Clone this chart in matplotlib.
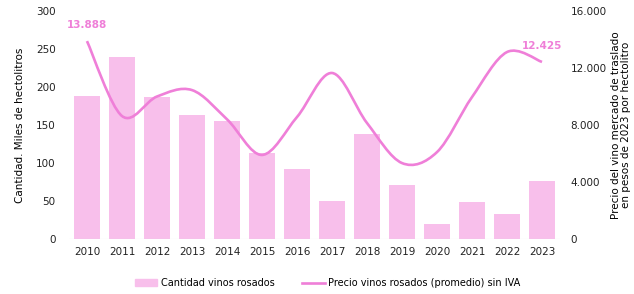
import matplotlib.pyplot as plt
import numpy as np
from matplotlib.path import Path
import matplotlib.patches as patches

years = ['2010', '2011', '2012', '2013', '2014', '2015', '2016',
         '2017', '2018', '2019', '2020', '2021', '2022', '2023']
cantidad = [188, 239, 187, 163, 155, 113, 92, 50, 138, 71, 20, 49, 33, 76]
precio = [13888, 8630, 10000, 10450, 8400, 5900, 8560, 11650, 8140, 5330,
          6100, 9960, 13120, 12425]

color_bar = '#F8BFEB'
color_line = '#EF7FD8'

plt.rcParams['font.family'] = ['DejaVu Sans']

fig = plt.figure(figsize=(6.34, 2.94), dpi=100)
ax = fig.add_axes([0.1096, 0.187, 0.7729, 0.7756])
ax2 = ax.twinx()

x = np.arange(len(years))
ax.bar(x, cantidad, width=0.77, color=color_bar, zorder=2,
       label='Cantidad vinos rosados')
ax.set_xlim(-0.5, len(years) - 0.5)
ax.set_ylim(0, 300)
ax.set_yticks([0, 50, 100, 150, 200, 250, 300])
ax.set_xticks(x)
ax.set_xticklabels(years)
ax.axhline(0, color='#DDDDDD', linewidth=0.8, zorder=3)

# smoothed line (bezier through the points, like excel)
pts = np.column_stack([x, precio]).astype(float)
verts = [pts[0]]
codes = [Path.MOVETO]
n = len(pts)
for i in range(n - 1):
    p0 = pts[i - 1] if i > 0 else pts[i]
    p1 = pts[i]
    p2 = pts[i + 1]
    p3 = pts[i + 2] if i + 2 < n else pts[i + 1]
    c1 = p1 + (p2 - p0) / 6
    c2 = p2 - (p3 - p1) / 6
    verts += [c1, c2, p2]
    codes += [Path.CURVE4] * 3
curva = patches.PathPatch(Path(verts, codes), facecolor='none',
                          edgecolor=color_line, linewidth=1.9, zorder=4)
ax2.add_patch(curva)
ax2.set_ylim(0, 16000)
ax2.set_yticks([0, 4000, 8000, 12000, 16000])
ax2.set_yticklabels(['0', '4.000', '8.000', '12.000', '16.000'])

ax2.text(0, 15050, '13.888', color=color_line, fontsize=7.5,
         ha='center', va='center', fontweight='bold')
ax2.text(n - 1, 13550, '12.425', color=color_line, fontsize=7.5,
         ha='center', va='center', fontweight='bold')

for a in (ax, ax2):
    for s in a.spines.values():
        s.set_visible(False)
    a.tick_params(length=0, labelsize=7.5, colors='#222222')
ax.tick_params(axis='x', pad=6)
ax.tick_params(axis='y', pad=10)
ax2.tick_params(axis='y', pad=8)
for t in ax2.get_yticklabels():
    t.set_ha('left')

ax.set_ylabel('Cantidad. Miles de hectolitros', fontsize=7.5, labelpad=8)
ax2.set_ylabel('Precio del vino mercado de traslado\nen pesos de 2023 por hectolitro',
               fontsize=7.5, labelpad=3, linespacing=1.0)

fig.legend(handles=[
    patches.Patch(color=color_bar, label='Cantidad vinos rosados'),
    plt.Line2D([], [], color=color_line, linewidth=1.9,
               label='Precio vinos rosados (promedio) sin IVA')],
    loc='lower center', bbox_to_anchor=(0.517, -0.01), ncol=2, frameon=False,
    fontsize=7, handlelength=2.3, handletextpad=0.4, columnspacing=2.8)

fig.savefig('out.png', dpi=100)
